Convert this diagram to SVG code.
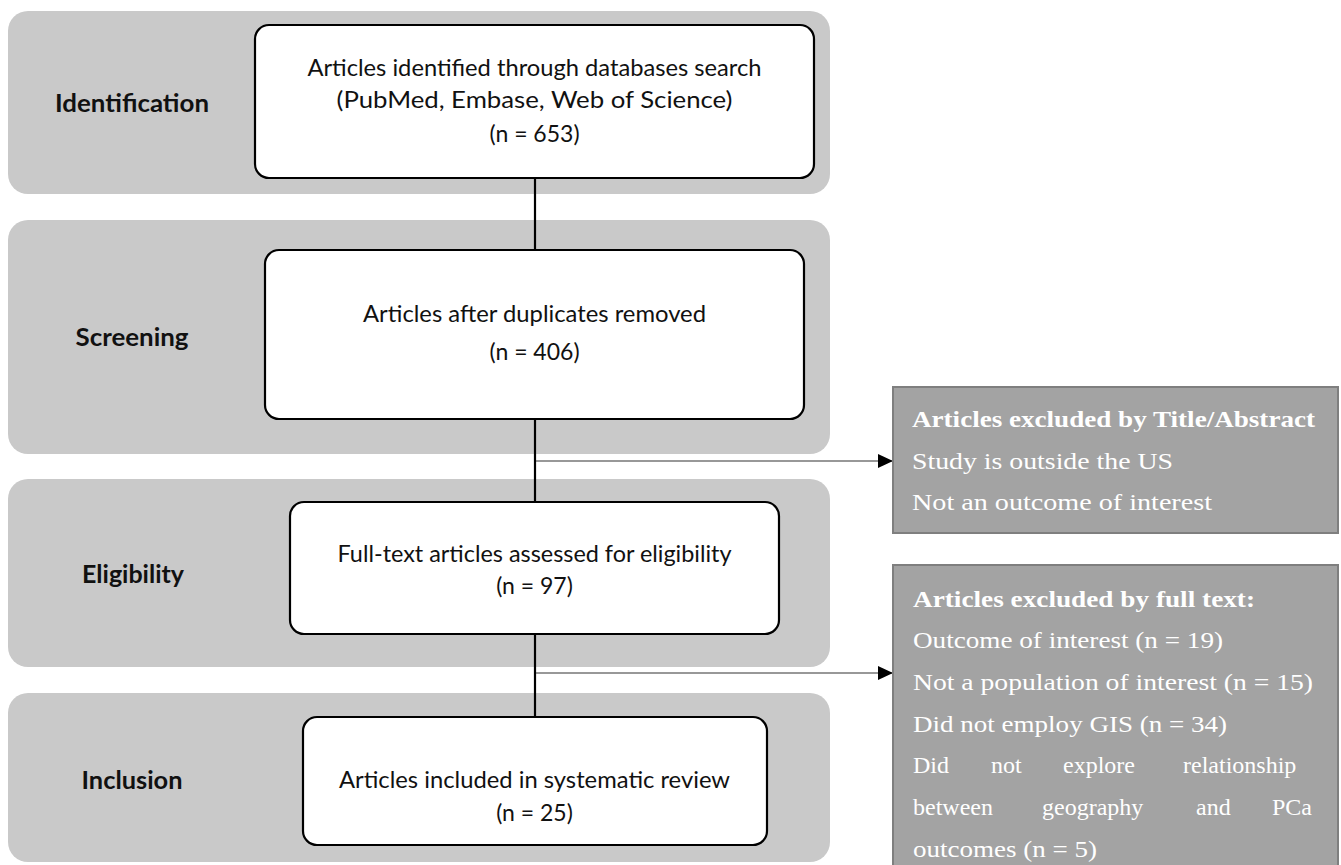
<svg xmlns="http://www.w3.org/2000/svg" width="1341" height="865" viewBox="0 0 1341 865">
<style>
.band{fill:#c9c9c9;}
.box{fill:#ffffff;stroke:#000000;stroke-width:2.2;}
.t{font-family:Lato,"Open Sans",sans-serif;font-size:23px;fill:#111;text-anchor:middle;}
.lbl{font-family:Lato,"Open Sans",sans-serif;font-size:25px;font-weight:bold;fill:#111;text-anchor:middle;}
.ex{fill:#a3a3a3;stroke:#7f7f7f;stroke-width:2;}
.et{font-family:"Liberation Serif","Times New Roman",serif;font-size:24px;fill:#ffffff;}
.eb{font-weight:bold;}
.v{stroke:#000;stroke-width:2.2;fill:none;}
.h{stroke:#333;stroke-width:1.2;fill:none;}
</style>
<defs>
<marker id="arr" markerWidth="15" markerHeight="14" refX="15" refY="7" orient="auto" markerUnits="userSpaceOnUse">
<path d="M0,0 L15,7 L0,14 Z" fill="#000"/>
</marker>
</defs>
<rect width="1341" height="865" fill="#ffffff"/>
<g id="bands">
<rect class="band" x="8" y="11" width="822" height="183" rx="20"/>
<rect class="band" x="8" y="220" width="822" height="234" rx="20"/>
<rect class="band" x="8" y="479" width="822" height="188" rx="20"/>
<rect class="band" x="8" y="693" width="822" height="169" rx="20"/>
</g>
<g id="labels">
<text class="lbl" x="132" y="112" textLength="154" lengthAdjust="spacingAndGlyphs">Identification</text>
<text class="lbl" x="132" y="346" textLength="113" lengthAdjust="spacingAndGlyphs">Screening</text>
<text class="lbl" x="133" y="583" textLength="102" lengthAdjust="spacingAndGlyphs">Eligibility</text>
<text class="lbl" x="132" y="789" textLength="101" lengthAdjust="spacingAndGlyphs">Inclusion</text>
</g>
<g id="connectors">
<line class="v" x1="535" y1="178" x2="535" y2="250"/>
<line class="v" x1="535" y1="419" x2="535" y2="502"/>
<line class="v" x1="535" y1="634" x2="535" y2="717"/>
<line class="h" x1="536" y1="461" x2="893" y2="461" marker-end="url(#arr)"/>
<line class="h" x1="536" y1="673" x2="893" y2="673" marker-end="url(#arr)"/>
</g>
<g id="node-identified">
<rect class="box" x="255" y="25" width="559" height="153" rx="14"/>
<text class="t" x="534.5" y="76" textLength="454" lengthAdjust="spacingAndGlyphs">Articles identified through databases search</text>
<text class="t" x="534.5" y="108" textLength="396" lengthAdjust="spacingAndGlyphs">(PubMed, Embase, Web of Science)</text>
<text class="t" x="534.5" y="142">(n = 653)</text>
</g>
<g id="node-duplicates">
<rect class="box" x="265" y="250" width="539" height="169" rx="14"/>
<text class="t" x="534.5" y="322" textLength="343" lengthAdjust="spacingAndGlyphs">Articles after duplicates removed</text>
<text class="t" x="534.5" y="360">(n = 406)</text>
</g>
<g id="node-fulltext">
<rect class="box" x="290" y="502" width="489" height="132" rx="14"/>
<text class="t" x="534.5" y="562" textLength="394" lengthAdjust="spacingAndGlyphs">Full-text articles assessed for eligibility</text>
<text class="t" x="534.5" y="594">(n = 97)</text>
</g>
<g id="node-included">
<rect class="box" x="303" y="717" width="464" height="128" rx="14"/>
<text class="t" x="534.5" y="788" textLength="391" lengthAdjust="spacingAndGlyphs">Articles included in systematic review</text>
<text class="t" x="534.5" y="821">(n = 25)</text>
</g>
<g id="node-excluded-title">
<rect class="ex" x="893" y="387" width="445" height="146"/>
<text class="et eb" x="912" y="427" textLength="403" lengthAdjust="spacingAndGlyphs">Articles excluded by Title/Abstract</text>
<text class="et" x="912" y="469" textLength="261" lengthAdjust="spacingAndGlyphs">Study is outside the US</text>
<text class="et" x="912" y="510" textLength="300" lengthAdjust="spacingAndGlyphs">Not an outcome of interest</text>
</g>
<g id="node-excluded-fulltext">
<rect class="ex" x="893" y="565" width="445" height="310"/>
<text class="et eb" x="913" y="607" textLength="342" lengthAdjust="spacingAndGlyphs">Articles excluded by full text:</text>
<text class="et" x="913" y="648" textLength="310" lengthAdjust="spacingAndGlyphs">Outcome of interest (n = 19)</text>
<text class="et" x="913" y="690" textLength="400" lengthAdjust="spacingAndGlyphs">Not a population of interest (n = 15)</text>
<text class="et" x="913" y="732" textLength="314" lengthAdjust="spacingAndGlyphs">Did not employ GIS (n = 34)</text>
<text class="et" y="773"><tspan x="913">Did</tspan> <tspan x="991">not</tspan> <tspan x="1063">explore</tspan> <tspan x="1183">relationship</tspan></text>
<text class="et" y="815"><tspan x="913">between</tspan> <tspan x="1042">geography</tspan> <tspan x="1196">and</tspan> <tspan x="1272">PCa</tspan></text>
<text class="et" x="913" y="857" textLength="184" lengthAdjust="spacingAndGlyphs">outcomes (n = 5)</text>
</g>
</svg>
